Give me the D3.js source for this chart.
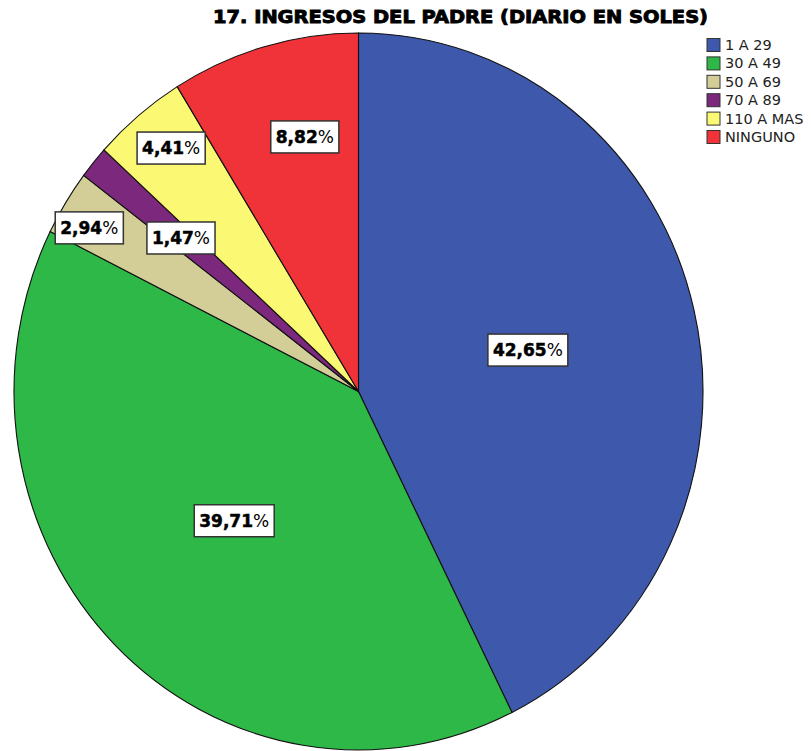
<!DOCTYPE html>
<html>
<head>
<meta charset="utf-8">
<script src="https://cdn.jsdelivr.net/npm/d3@7/dist/d3.min.js"></script>
<style>
  body { margin: 0; background: #fff; }
  svg { display: block; }
</style>
</head>
<body>
<svg width="811" height="751"></svg>
<script>
// data
const categories = ["1 A 29", "30 A 49", "50 A 69", "70 A 89", "110 A MAS", "NINGUNO"];
const percents = [42.65, 39.71, 2.94, 1.47, 4.41, 8.82];
const colors = ["#3e58ac", "#2eb848", "#d3ce97", "#7c287d", "#fbf873", "#ef3338"];
const title = "17. INGRESOS DEL PADRE (DIARIO EN SOLES)";

// label placement (fraction of radius, angle shift in degrees)
const labelPlace = [[0.505, 0], [0.51, 0], [0.905, -1.5], [0.67, 0], [0.87, 1], [0.727, 3.5]];

const svg = d3.select("svg");
const cx = 358.5, cy = 391.5, R = 344.5, sy = 358.5 / 344.5;

svg.append("text")
    .attr("x", 460.5).attr("y", 23)
    .attr("text-anchor", "middle")
    .style("font-family", "DejaVu Sans, Verdana, sans-serif")
    .style("font-weight", "bold")
    .style("font-size", "17px")
    .attr("stroke", "#000")
    .attr("stroke-width", 0.9)
    .attr("textLength", 495)
    .attr("lengthAdjust", "spacingAndGlyphs")
    .text(title);

const pie = d3.pie().sort(null).value(d => d);
const arcs = pie(percents);
const arc = d3.arc().innerRadius(0).outerRadius(R);

const g = svg.append("g")
    .attr("transform", `translate(${cx},${cy})`);

g.append("g")
    .attr("transform", `scale(1,${sy})`)
    .selectAll("path")
    .data(arcs)
    .enter().append("path")
    .attr("d", arc)
    .attr("fill", (d, i) => colors[i])
    .attr("stroke", "#111")
    .attr("stroke-width", 1.1)
    .attr("vector-effect", "non-scaling-stroke");

const fmt = v => d3.format(".2f")(v).replace(".", ",");

const labels = g.selectAll("g.lbl")
    .data(arcs)
    .enter().append("g")
    .attr("class", "lbl")
    .attr("transform", (d, i) => {
        const a = (d.startAngle + d.endAngle) / 2 + labelPlace[i][1] * Math.PI / 180;
        const r = labelPlace[i][0] * R;
        return `translate(${r * Math.sin(a)},${-r * Math.cos(a) * sy})`;
    });

labels.each(function (d) {
    const lg = d3.select(this);
    const t = lg.append("text")
        .attr("text-anchor", "middle")
        .attr("y", 6)
        .style("font-family", "DejaVu Sans, Verdana, sans-serif")
        .style("font-size", "17px")
        .attr("fill", "#000");
    t.append("tspan").style("font-weight", "bold")
        .attr("stroke", "#000").attr("stroke-width", 0.5)
        .text(fmt(d.data));
    t.append("tspan").text("%");
    const bb = t.node().getBBox();
    lg.insert("rect", "text")
        .attr("x", bb.x - 5).attr("y", -16)
        .attr("width", bb.width + 10).attr("height", 32)
        .attr("fill", "#fff")
        .attr("stroke", "#333")
        .attr("stroke-width", 1.5);
});

// legend
const legend = svg.append("g").attr("transform", "translate(707,45)");
const row = legend.selectAll("g")
    .data(categories)
    .enter().append("g")
    .attr("transform", (d, i) => `translate(0,${i * 18.4})`);

row.append("rect")
    .attr("x", 0).attr("y", -6.5)
    .attr("width", 13).attr("height", 13)
    .attr("fill", (d, i) => colors[i])
    .attr("stroke", "#333")
    .attr("stroke-width", 1);

row.append("text")
    .attr("x", 18).attr("y", 5)
    .style("font-family", "DejaVu Sans, Verdana, sans-serif")
    .style("font-size", "14.5px")
    .attr("fill", "#222")
    .text(d => d);
</script>
</body>
</html>
